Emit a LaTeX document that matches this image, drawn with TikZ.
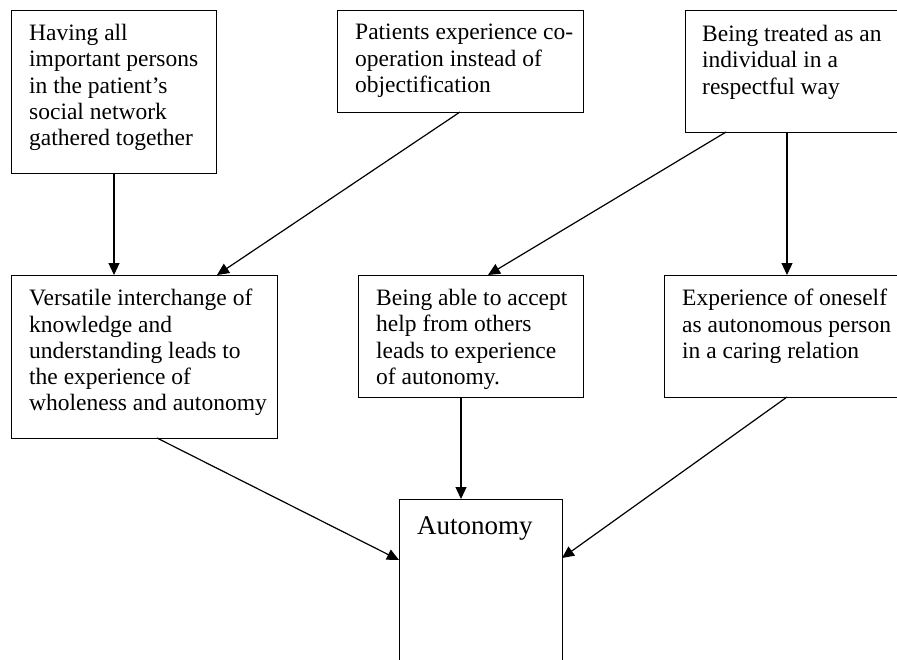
\documentclass[tikz,border=0pt]{standalone}
\usepackage{fontspec}
\setmainfont{Liberation Serif}
\usetikzlibrary{arrows.meta}
\begin{document}
\begin{tikzpicture}[x=1pt,y=-1pt,
  boxshape/.style={draw=black, line width=1.2pt, fill=none},
  txt/.style={anchor=north west, inner sep=0pt, align=left, font=\fontsize{23.5}{26.3}\selectfont},
  bigtxt/.style={anchor=north west, inner sep=0pt, align=left, font=\fontsize{27}{30}\selectfont},
  arr/.style={line width=1.2pt, -{Triangle[length=12pt,width=11pt]}}
]
\useasboundingbox (0,0) rectangle (897,659);
% boxes
\node[boxshape, anchor=north west, minimum width=205pt, minimum height=163pt, inner sep=0pt] (A) at (11,10) {};
\node[boxshape, anchor=north west, minimum width=246pt, minimum height=102pt, inner sep=0pt] (B) at (337,10) {};
\node[boxshape, anchor=north west, minimum width=230pt, minimum height=122pt, inner sep=0pt] (C) at (685,10) {};
\node[boxshape, anchor=north west, minimum width=266pt, minimum height=163pt, inner sep=0pt] (D) at (11,275) {};
\node[boxshape, anchor=north west, minimum width=225pt, minimum height=122pt, inner sep=0pt] (E) at (358,275) {};
\node[boxshape, anchor=north west, minimum width=250pt, minimum height=122pt, inner sep=0pt] (F) at (664,275) {};
\node[boxshape, anchor=north west, minimum width=163pt, minimum height=180pt, inner sep=0pt] (G) at (399,499) {};
% texts
\node[txt] (tA) at (29,24) {Having all\\important persons\\in the patient’s\\social network\\gathered together};
\node[txt] (tB) at (355,24) {Patients experience co-\\operation instead of\\objectification};
\node[txt] (tC) at (702,25) {Being treated as an\\individual in a\\respectful way};
\node[txt] (tD) at (29,289) {Versatile interchange of\\knowledge and\\understanding leads to\\the experience of\\wholeness and autonomy};
\node[txt] (tE) at (376,289) {Being able to accept\\help from others\\leads to experience\\of autonomy.};
\node[txt] (tF) at (682,289) {Experience of oneself\\as autonomous person\\in a caring relation};
\node[bigtxt] (tG) at (417,516) {Autonomy};
% connector anchor coordinates
\coordinate (Ab) at (114,173);
\coordinate (Dt1) at (114,275);
\coordinate (Bb) at (460,112);
\coordinate (Dt2) at (217,275);
\coordinate (Cb1) at (726,132);
\coordinate (Et) at (488,275);
\coordinate (Cb2) at (787,132);
\coordinate (Ft) at (787,275);
\coordinate (Db) at (157,438);
\coordinate (Gl) at (399,560);
\coordinate (Eb) at (461,397);
\coordinate (Gt) at (461,499);
\coordinate (Fb) at (787,397);
\coordinate (Gr) at (562,558);
% connectors
\draw[arr] (Ab) -- (Dt1);
\draw[arr] (Bb) -- (Dt2);
\draw[arr] (Cb1) -- (Et);
\draw[arr] (Cb2) -- (Ft);
\draw[arr] (Db) -- (Gl);
\draw[arr] (Eb) -- (Gt);
\draw[arr] (Fb) -- (Gr);
\end{tikzpicture}
\end{document}
